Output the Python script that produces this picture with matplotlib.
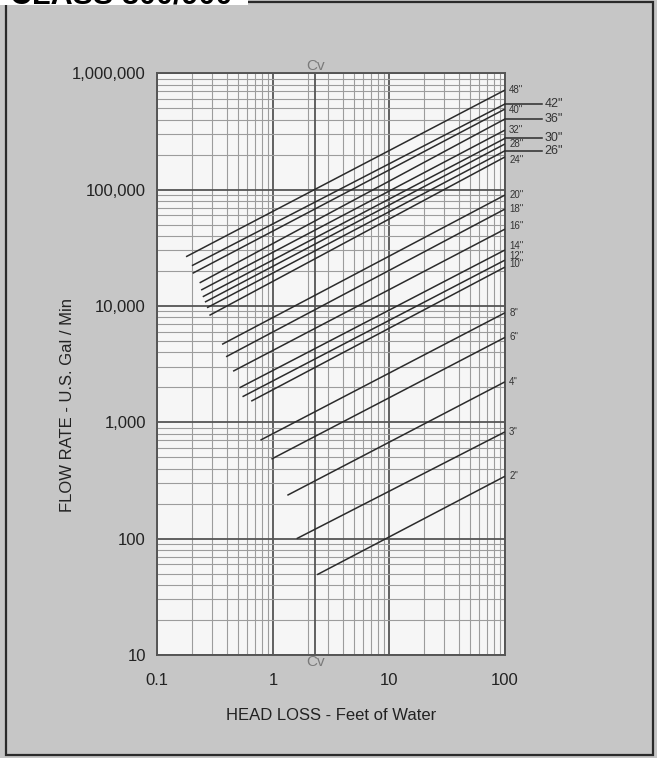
import matplotlib.pyplot as plt
import numpy as np
from matplotlib.patches import Rectangle
from matplotlib.ticker import FuncFormatter, NullFormatter, LogLocator

plt.rcParams['font.family'] = ['Liberation Sans', 'DejaVu Sans']

# valve sizes and the two end points of each Cv line
sizes = ['2"', '3"', '4"', '6"', '8"', '10"', '12"', '14"', '16"', '18"',
         '20"', '24"', '26"', '28"', '30"', '32"', '36"', '40"', '42"', '48"']
head_start = [2.4, 1.6, 1.33, 0.97, 0.78, 0.649, 0.546, 0.514, 0.453, 0.394,
              0.364, 0.283, 0.270, 0.259, 0.248, 0.240, 0.233, 0.203, 0.200, 0.178]
flow_start = [49, 100, 236, 483, 703, 1520, 1660, 1980, 2750, 3660,
              4680, 8300, 9660, 10800, 12000, 13700, 15800, 19100, 22200, 26500]
head_end = [100] * 20
flow_end = [344, 828, 2230, 5370, 8740, 21600, 24800, 30300, 45800, 68100,
            89900, 191000, 216000, 247000, 276000, 325000, 405000, 493000, 545000, 718000]

# sizes whose label sits out on a leader line
leader_sizes = ['26"', '30"', '36"', '42"']
cv_head = 2.31  # 1 psi in feet of water

W, H = 657, 758
fig = plt.figure(figsize=(W / 100, H / 100), dpi=100)
fig.patch.set_facecolor('#c6c6c6')

# panel frame and the clipped title box at the top
fig.add_artist(Rectangle((6 / W, 3 / H), 647 / W, 753 / H, transform=fig.transFigure,
                         fill=False, ec='#2a2a2a', lw=1.6, zorder=1))
fig.add_artist(Rectangle((0, 1 - 5 / H), 248 / W, 5 / H, transform=fig.transFigure,
                         fc='white', ec='none', zorder=2))
fig.text(10 / W, 1 - 3 / H, 'CLASS 800/900', fontsize=22, fontweight='bold',
         va='baseline', ha='left', color='black', zorder=3)

left, right, top, bottom = 157, 505, 73.3, 655
ax = fig.add_axes([left / W, 1 - bottom / H, (right - left) / W, (bottom - top) / H])
ax.set_facecolor('#f6f6f6')
ax.set_xscale('log')
ax.set_yscale('log')
ax.set_xlim(0.1, 100)
ax.set_ylim(10, 1e6)

ax.xaxis.set_minor_locator(LogLocator(base=10, subs=np.arange(2, 10)))
ax.yaxis.set_minor_locator(LogLocator(base=10, subs=np.arange(2, 10), numticks=20))
ax.xaxis.set_minor_formatter(NullFormatter())
ax.yaxis.set_minor_formatter(NullFormatter())
ax.xaxis.set_major_formatter(FuncFormatter(lambda v, p: f'{v:g}'))
ax.yaxis.set_major_formatter(FuncFormatter(lambda v, p: f'{v:,.0f}'))
ax.set_yticks([10, 100, 1000, 10000, 100000, 1000000])

ax.grid(which='minor', color='#9c9c9c', lw=0.8)
ax.grid(which='major', color='#555555', lw=1.3)
ax.set_axisbelow(True)
ax.tick_params(which='both', length=0)
ax.tick_params(axis='x', pad=13, labelsize=12, labelcolor='#222')
ax.tick_params(axis='y', pad=8, labelsize=12, labelcolor='#222')
for s in ax.spines.values():
    s.set_color('#555555')
    s.set_linewidth(1.4)

ax.axvline(cv_head, color='#555555', lw=1.3, zorder=1)
ax.text(cv_head, 1.0, 'Cv', transform=ax.get_xaxis_transform(), ha='center',
        va='bottom', fontsize=11, color='#7a7a7a')
ax.text(cv_head, 0.0, 'Cv', transform=ax.get_xaxis_transform(), ha='center',
        va='top', fontsize=11, color='#7a7a7a')

label_dy = {'10"': 2, '12"': 3, '14"': 3, '16"': 2, '24"': -2, '40"': -1}
for s, hs, fs, he, fe in zip(sizes, head_start, flow_start, head_end, flow_end):
    ax.plot([hs, he], [fs, fe], color='#2b2b2b', lw=1.1, solid_capstyle='butt', zorder=3)
    if s in leader_sizes:
        ax.plot([he, 207], [fe, fe], color='#2b2b2b', lw=1.1, clip_on=False, zorder=3)
        ax.annotate(s, (207, fe), xytext=(2, 0), textcoords='offset points',
                    ha='left', va='center', fontsize=9, color='#333', annotation_clip=False)
    else:
        ax.annotate(s, (he, fe), xytext=(3, label_dy.get(s, 0)), textcoords='offset points',
                    ha='left', va='center', fontsize=7, color='#333', annotation_clip=False)

fig.text(331 / W, 1 - 715 / H, 'HEAD LOSS - Feet of Water', ha='center', va='center',
         fontsize=12, color='#222')
fig.text(67 / W, 1 - 405 / H, 'FLOW RATE - U.S. Gal / Min', ha='center', va='center',
         rotation=90, fontsize=12, color='#222')

fig.savefig('out.png', dpi=100, facecolor=fig.get_facecolor())
